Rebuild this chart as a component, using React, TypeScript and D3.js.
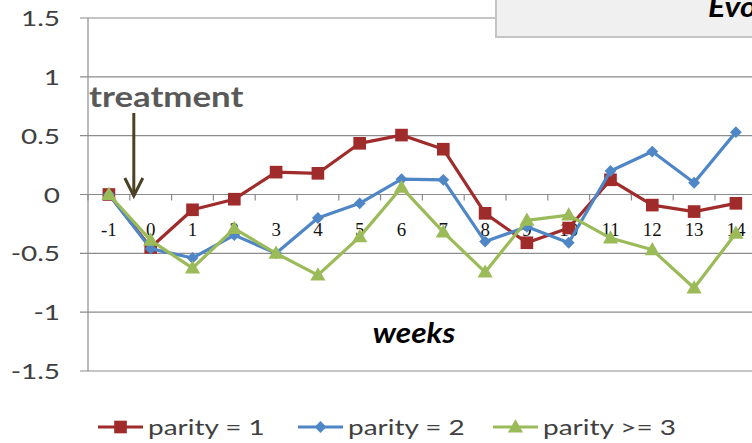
import React from "react";
import * as d3 from "d3";

const W = 752;
const H = 443;

// Weeks relative to treatment
const weeks = [-1, 0, 1, 2, 3, 4, 5, 6, 7, 8, 9, 10, 11, 12, 13, 14];

const parity1 = [0, -0.45, -0.13, -0.04, 0.19, 0.18, 0.435, 0.505, 0.385, -0.16, -0.41, -0.285, 0.125, -0.09, -0.145, -0.075];
const parity2 = [0, -0.46, -0.54, -0.345, -0.5, -0.2, -0.075, 0.13, 0.125, -0.4, -0.275, -0.41, 0.2, 0.365, 0.1, 0.53];
const parity3 = [0, -0.39, -0.625, -0.29, -0.5, -0.685, -0.36, 0.06, -0.32, -0.66, -0.22, -0.175, -0.37, -0.47, -0.795, -0.33];

const seriesNames = ["parity = 1", "parity = 2", "parity >= 3"];
const yTicks = [-1.5, -1, -0.5, 0, 0.5, 1, 1.5];

const FONT = "Lato, 'Open Sans', sans-serif";
const SERIF = "'Liberation Serif', 'DejaVu Serif', serif";

type TxtProps = {
  x: number;
  y: number;
  sx?: number;
  anchor?: "start" | "middle" | "end";
  size: number;
  weight?: number | string;
  italic?: boolean;
  fill?: string;
  family?: string;
  children: React.ReactNode;
};

// Text with a horizontal stretch factor
function Txt({ x, y, sx = 1, anchor = "start", size, weight = 400, italic = false, fill = "#404040", family = FONT, children }: TxtProps) {
  return (
    <g transform={`translate(${x},${y}) scale(${sx},1)`}>
      <text
        x={0}
        y={0}
        textAnchor={anchor}
        fontFamily={family}
        fontSize={size}
        fontWeight={weight}
        fontStyle={italic ? "italic" : "normal"}
        fill={fill}
      >
        {children}
      </text>
    </g>
  );
}

const COLORS = ["#A02B2B", "#4F86C6", "#9BBB59"];

function Marker({ kind, x, y, color }: { kind: number; x: number; y: number; color: string }) {
  if (kind === 0) {
    const p = d3.symbol().type(d3.symbolSquare).size(160)();
    return <path d={p || ""} transform={`translate(${x},${y})`} fill={color} />;
  }
  if (kind === 1) {
    const p = d3.symbol().type(d3.symbolSquare).size(70)();
    return <path d={p || ""} transform={`translate(${x},${y}) rotate(45)`} fill={color} />;
  }
  const p = d3.symbol().type(d3.symbolTriangle).size(100)();
  return <path d={p || ""} transform={`translate(${x},${y + 1})`} fill={color} />;
}

export default function App() {
  const x = d3.scaleBand<number>().domain(weeks).range([88, 88 + 16 * 41.8]);
  const bw = x.bandwidth();
  const cx = (w: number) => (x(w) as number) + bw / 2;
  const y = d3.scaleLinear().domain([-1.5, 1.5]).range([371, 18]);

  const series = [parity1, parity2, parity3];
  const line = d3
    .line<number>()
    .x((_, i) => cx(weeks[i]))
    .y((d) => y(d));

  const plotLeft = 88;
  const gridColor = "#8c8c8c";
  const y0 = y(0);

  // treatment arrow sits between week -1 and week 0
  const arrowX = (cx(-1) + cx(0)) / 2 + 4;

  const legendX = [98, 298, 493];

  return (
    <svg width={W} height={H} style={{ position: "absolute", left: 0, top: 0, background: "#fff" }}>
      {/* horizontal gridlines */}
      {yTicks.map((t) => (
        <line key={t} x1={80} x2={W} y1={y(t)} y2={y(t)} stroke={gridColor} strokeWidth={1.2} />
      ))}
      {/* vertical axis */}
      <line x1={plotLeft} x2={plotLeft} y1={y(1.5)} y2={y(-1.5)} stroke={gridColor} strokeWidth={1.2} />
      {/* category tick marks on the zero line */}
      {weeks.map((w) => (
        <line key={w} x1={x(w) as number} x2={x(w) as number} y1={y0} y2={y0 + 6} stroke={gridColor} strokeWidth={1.2} />
      ))}

      {/* y tick labels */}
      {yTicks.map((t) => (
        <Txt key={t} x={60} y={y(t) + 8} sx={1.27} anchor="end" size={22}>
          {String(t)}
        </Txt>
      ))}

      {/* x tick labels */}
      {weeks.map((w) => (
        <Txt key={w} x={cx(w)} y={y0 + 41} sx={1.05} anchor="middle" size={18} family={SERIF} fill="#111">
          {String(w)}
        </Txt>
      ))}

      {/* series */}
      {series.map((s, k) => (
        <g key={k}>
          <path d={line(s) || ""} fill="none" stroke={COLORS[k]} strokeWidth={3.2} strokeLinejoin="round" />
          {s.map((v, i) => (
            <Marker key={i} kind={k} x={cx(weeks[i])} y={y(v)} color={COLORS[k]} />
          ))}
        </g>
      ))}

      {/* axis title */}
      <Txt x={414} y={343} sx={1.13} anchor="middle" size={28} weight={700} italic fill="#000">
        weeks
      </Txt>

      {/* treatment annotation */}
      <Txt x={89} y={107} sx={1.2} size={29} weight={700} fill="#595959">
        treatment
      </Txt>
      <line x1={arrowX} x2={arrowX} y1={113} y2={196} stroke="#4B4226" strokeWidth={3} />
      <polyline
        points={`${arrowX - 9},${178} ${arrowX},${196} ${arrowX + 9},${178}`}
        fill="none"
        stroke="#4B4226"
        strokeWidth={3}
      />

      {/* title box */}
      <rect x={496} y={-4} width={270} height={41} fill="#f0f0f0" stroke="#c4c4c4" strokeWidth={2} />
      <Txt x={708} y={17} sx={1.15} size={28} weight={700} italic fill="#000">
        Evolution
      </Txt>

      {/* legend */}
      {seriesNames.map((name, k) => (
        <g key={name}>
          <line x1={legendX[k]} x2={legendX[k] + 45} y1={427} y2={427} stroke={COLORS[k]} strokeWidth={3.2} />
          <Marker kind={k} x={legendX[k] + 22.5} y={427} color={COLORS[k]} />
          <Txt x={legendX[k] + 50} y={435} sx={1.27} size={22}>
            {name}
          </Txt>
        </g>
      ))}
    </svg>
  );
}
